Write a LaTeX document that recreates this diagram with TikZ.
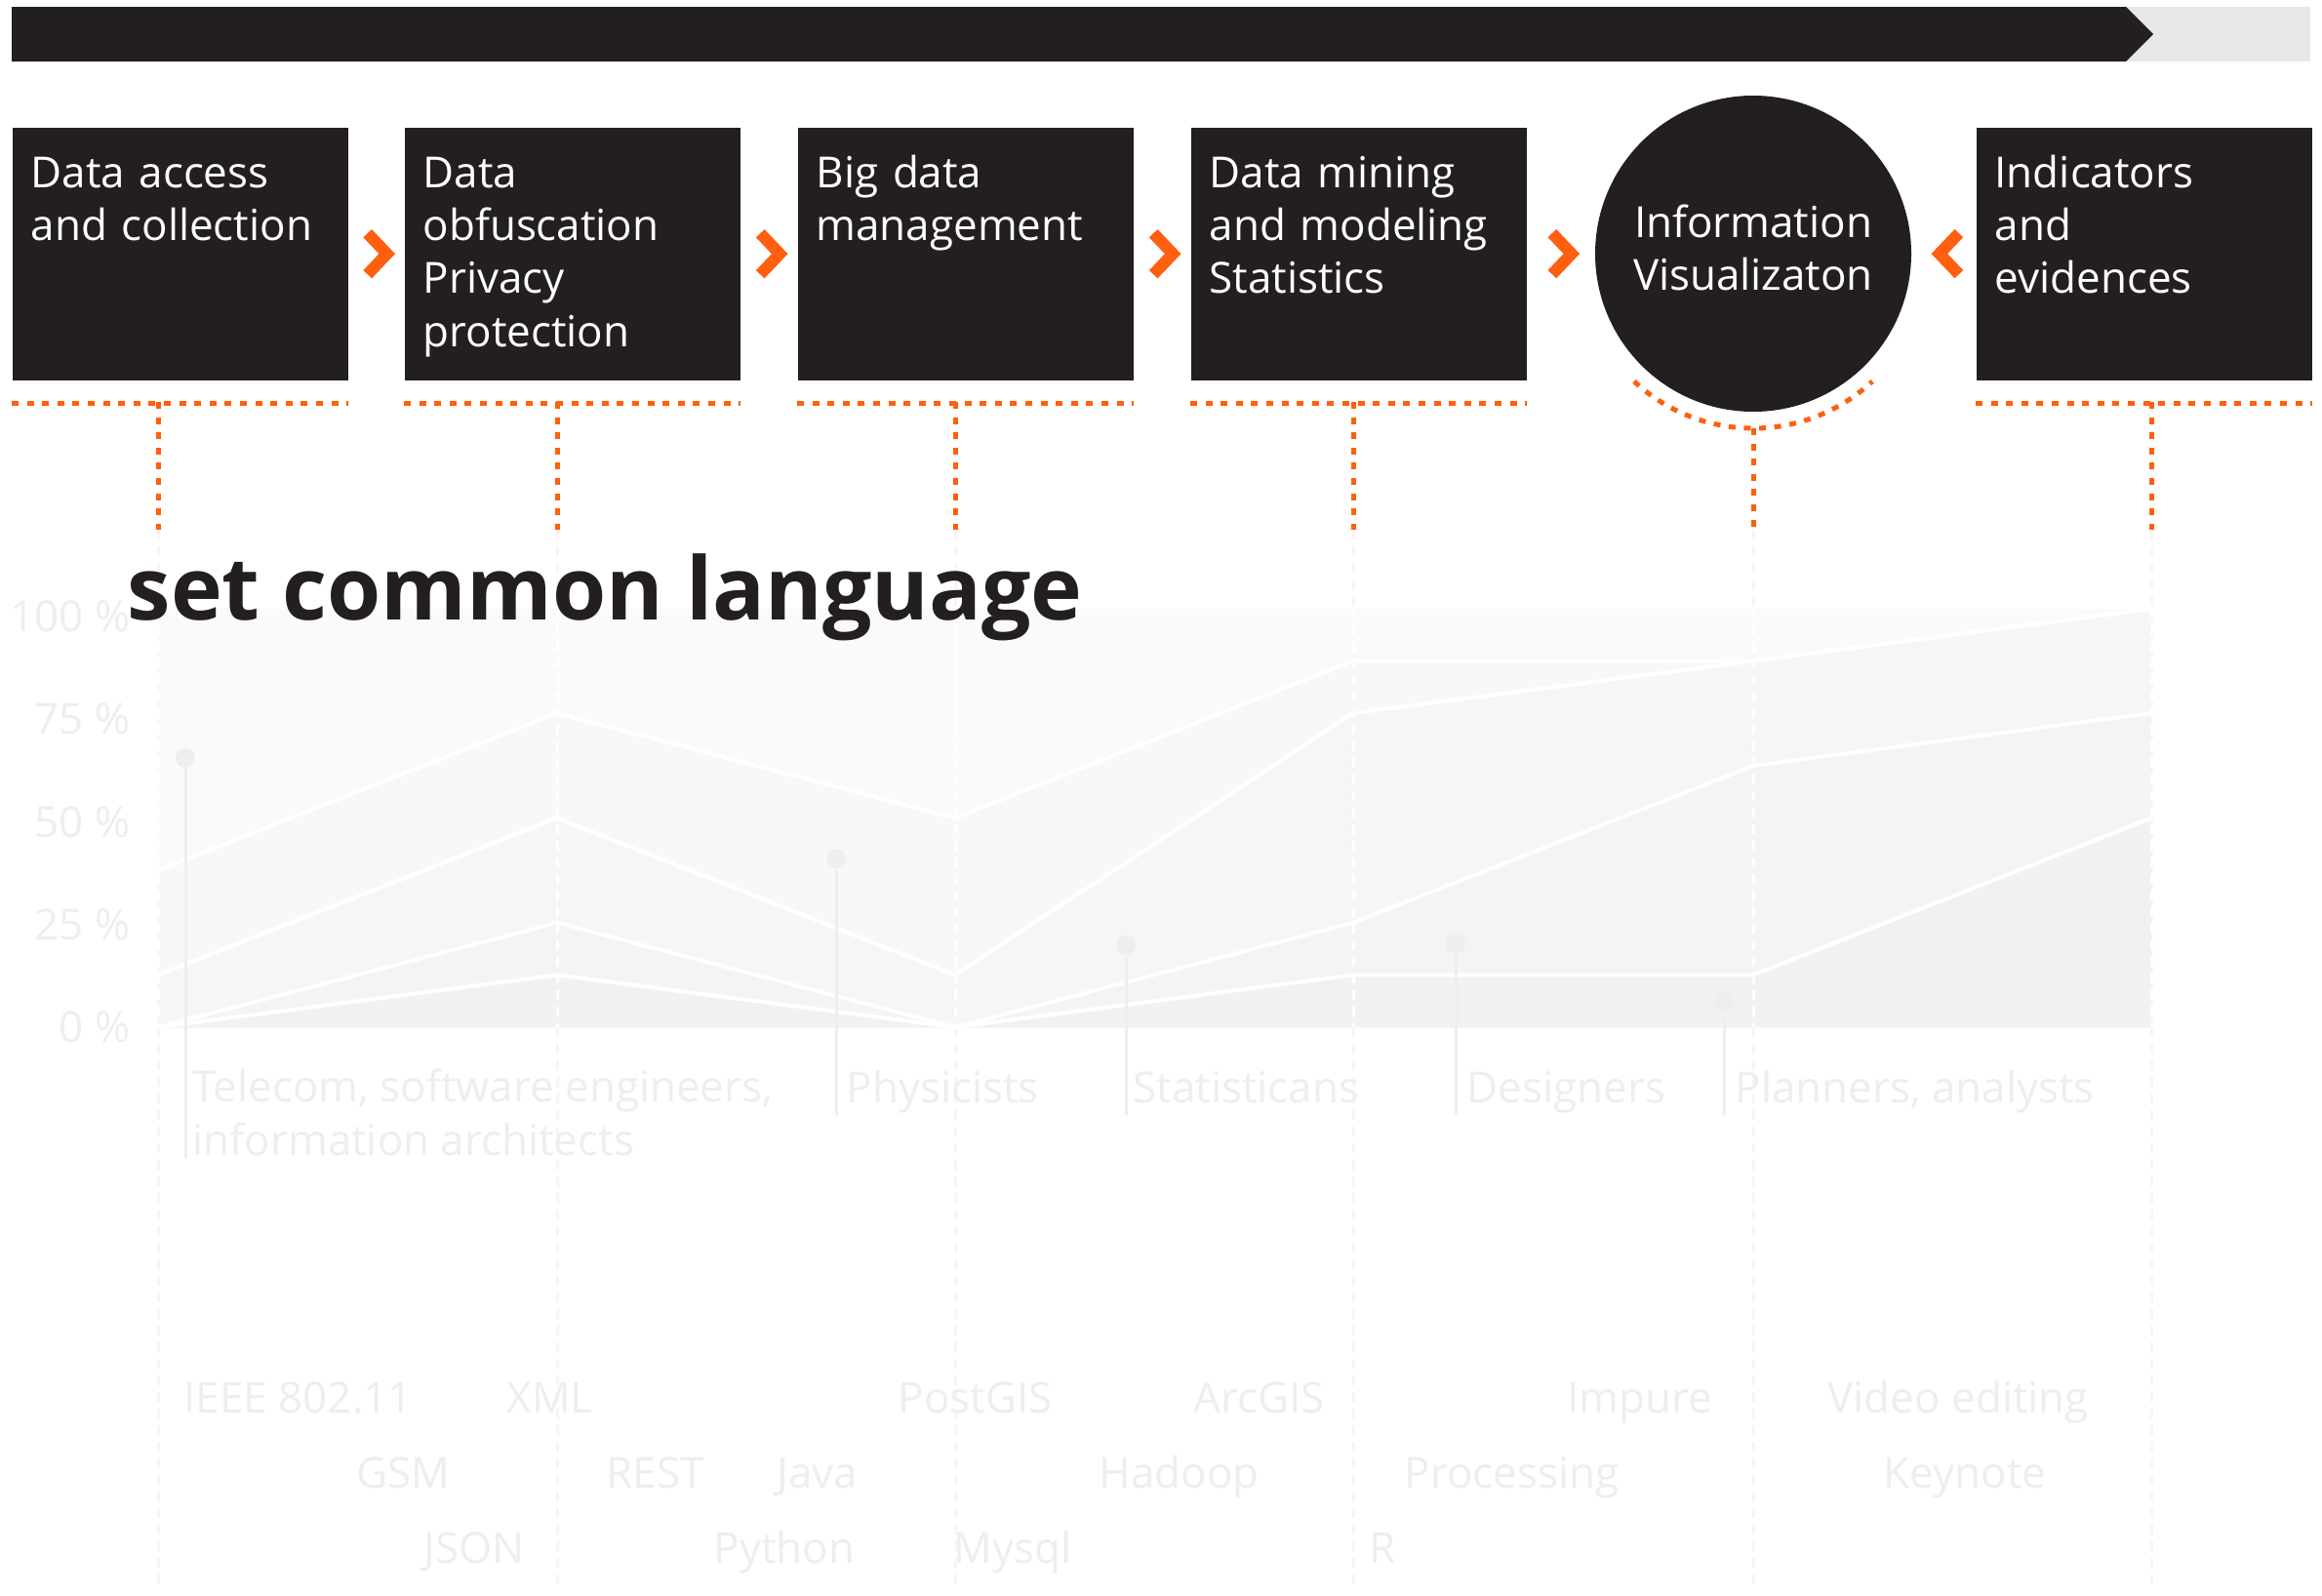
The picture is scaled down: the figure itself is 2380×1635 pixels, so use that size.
\documentclass[tikz,border=0pt]{standalone}
\usepackage{fontspec}
\setmainfont{Open Sans}
\usetikzlibrary{calc}
\definecolor{ink}{HTML}{231F20}
\definecolor{tangerine}{HTML}{FF5F0F}
\definecolor{bargray}{HTML}{E6E7E8}
\definecolor{ghost}{HTML}{EEEEEE}
\definecolor{band0}{HTML}{FAFAFA}
\definecolor{band1}{HTML}{F8F8F8}
\definecolor{band2}{HTML}{F6F6F6}
\definecolor{band3}{HTML}{F4F4F4}
\definecolor{band4}{HTML}{F1F1F1}

\begin{document}
\begin{tikzpicture}[x=0.1mm,y=-0.1mm]
	\tikzstyle{stepbox}=[rectangle,fill=ink,text=white,anchor=north west,inner sep=0pt,inner xsep=1.9mm,text width=30.6mm,align=left,text height=6.2mm,text depth=19.7mm,font=\fontsize{12.5}{15.4}\selectfont]
	\tikzstyle{dots}=[tangerine,line width=0.5mm,dash pattern=on 0.7mm off 0.86mm]
	\tikzstyle{faint}=[tangerine!8,line width=0.3mm,dash pattern=on 1mm off 0.7mm]
	\tikzstyle{gridline}=[white,line width=0.3mm,dash pattern=on 1mm off 0.7mm]
	\tikzstyle{serie}=[white,line width=0.4mm,line join=round]
	\tikzstyle{chev}=[tangerine,line width=1.2mm,miter limit=4]
	\tikzstyle{stalk}=[ghost,line width=0.3mm]
	\tikzstyle{head}=[circle,fill=ghost,minimum size=2mm,inner sep=0pt]
	\tikzstyle{ghosttext}=[text=ghost,inner sep=0pt,font=\fontsize{12.5}{15.4}\selectfont]
	\useasboundingbox (0,0) rectangle (2380,1635);
	\fill[white] (0,0) rectangle (2380,1635);
	% progress bar
	\fill[bargray] (12,7) rectangle (2368,63);
	\fill[ink] (12,7) -- (2179,7) -- (2207,35) -- (2179,63) -- (12,63) -- cycle;
	% steps
	\node[stepbox] (1) at (12,130) {Data access\\and collection};
	\node[stepbox] (2) at (414,130) {Data\\obfuscation\\Privacy\\protection};
	\node[stepbox] (3) at (817,130) {Big data\\management};
	\node[stepbox] (4) at (1220,130) {Data mining\\and modeling\\Statistics};
	\node[circle,fill=ink,text=white,minimum size=32.4mm,inner sep=0pt,align=center,text depth=1.2mm,font=\fontsize{12.5}{15.4}\selectfont] (5) at (1797,260) {Information\\Visualizaton};
	\node[stepbox] (6) at (2025,130) {Indicators\\and\\evidences};
	% chevrons
	\coordinate (a1) at ($(1.east)!0.5!(2.west)$);
	\coordinate (a2) at ($(2.east)!0.5!(3.west)$);
	\coordinate (a3) at ($(3.east)!0.5!(4.west)$);
	\coordinate (a4) at ($(4.east)!0.5!(5.west)$);
	\coordinate (a5) at ($(5.east)!0.5!(6.west)$);
	\draw[chev] (a1) ++(-9,-21) -- ++(20,21) -- ++(-20,21);
	\draw[chev] (a2) ++(-9,-21) -- ++(20,21) -- ++(-20,21);
	\draw[chev] (a3) ++(-9,-21) -- ++(20,21) -- ++(-20,21);
	\draw[chev] (a4) ++(-9,-21) -- ++(20,21) -- ++(-20,21);
	\draw[chev] (a5) ++(15.5,-21) -- ++(-20,21) -- ++(20,21);
	% dotted brackets
	\draw[dots] ($(1.south west)+(0,23)$) -- ($(1.south east)+(0,23)$);
	\draw[dots] ($(2.south west)+(0,23)$) -- ($(2.south east)+(0,23)$);
	\draw[dots] ($(3.south west)+(0,23)$) -- ($(3.south east)+(0,23)$);
	\draw[dots] ($(4.south west)+(0,23)$) -- ($(4.south east)+(0,23)$);
	\draw[dots] ($(6.south west)+(0,23)$) -- ($(6.south east)+(0,23)$);
	\draw[dots] ($(5.center)+(227:17.9mm)$) arc[start angle=227,end angle=313,radius=17.9mm];
	\coordinate (d1) at (162,412);
	\coordinate (d2) at (571,412);
	\coordinate (d3) at (979,412);
	\coordinate (d4) at (1387,412);
	\coordinate (d5) at (1797,439);
	\coordinate (d6) at (2205,412);
	\coordinate (e1) at (162,543);
	\coordinate (e2) at (571,543);
	\coordinate (e3) at (979,543);
	\coordinate (e4) at (1387,543);
	\coordinate (e5) at (1797,543);
	\coordinate (e6) at (2205,543);
	\draw[dots] (d1) -- (e1);
	\draw[dots] (d2) -- (e2);
	\draw[dots] (d3) -- (e3);
	\draw[dots] (d4) -- (e4);
	\draw[dots] (d5) -- (e5);
	\draw[dots] (d6) -- (e6);
	\draw[faint] (e1) -- (162,1625);
	\draw[faint] (e2) -- (571,1625);
	\draw[faint] (e3) -- (979,1625);
	\draw[faint] (e4) -- (1387,1625);
	\draw[faint] (e5) -- (1797,1625);
	\draw[faint] (e6) -- (2205,1625);
	% stacked chart
	\fill[band0] (162,624) rectangle (2205,1053);
	\fill[band1] (162,1053) -- (162,892) -- (571,731) -- (979,838.5) -- (1387,677.6) -- (1797,677.6) -- (2205,624) -- (2205,1053) -- cycle;
	\fill[band2] (162,1053) -- (162,999.4) -- (571,838.5) -- (979,999.4) -- (1387,731) -- (1797,677.6) -- (2205,624) -- (2205,1053) -- cycle;
	\fill[band3] (162,1053) -- (571,945.75) -- (979,1053) -- (1387,945.75) -- (1797,785) -- (2205,731) -- (2205,1053) -- cycle;
	\fill[band4] (162,1053) -- (571,999.4) -- (979,1053) -- (1387,999.4) -- (1797,999.4) -- (2205,838.5) -- (2205,1053) -- cycle;
	\draw[gridline] (162,624) -- (162,1053);
	\draw[gridline] (571,624) -- (571,1053);
	\draw[gridline] (979,624) -- (979,1053);
	\draw[gridline] (1387,624) -- (1387,1053);
	\draw[gridline] (1797,624) -- (1797,1053);
	\draw[gridline] (2205,624) -- (2205,1053);
	\draw[serie] (162,892) -- (571,731) -- (979,838.5) -- (1387,677.6) -- (1797,677.6) -- (2205,624);
	\draw[serie] (162,999.4) -- (571,838.5) -- (979,999.4) -- (1387,731) -- (1797,677.6) -- (2205,624);
	\draw[serie] (162,1053) -- (571,945.75) -- (979,1053) -- (1387,945.75) -- (1797,785) -- (2205,731);
	\draw[serie] (162,1053) -- (571,999.4) -- (979,1053) -- (1387,999.4) -- (1797,999.4) -- (2205,838.5);
	% axis
	\node[ghosttext,anchor=base east] (y100) at (134,647) {100 \%};
	\node[ghosttext,anchor=base east] (y75) at (134,752) {75 \%};
	\node[ghosttext,anchor=base east] (y50) at (134,858) {50 \%};
	\node[ghosttext,anchor=base east] (y25) at (134,963) {25 \%};
	\node[ghosttext,anchor=base east] (y0) at (134,1068) {0 \%};
	% professions
	\node[head] (h1) at (190,777) {};
	\node[head] (h2) at (857,880) {};
	\node[head] (h3) at (1154,969) {};
	\node[head] (h4) at (1492,967) {};
	\node[head] (h5) at (1767,1027) {};
	\coordinate (f1) at (190,1187);
	\coordinate (f2) at (857,1143);
	\coordinate (f3) at (1154,1143);
	\coordinate (f4) at (1492,1143);
	\coordinate (f5) at (1767,1143);
	\draw[stalk] (h1) -- (f1);
	\draw[stalk] (h2) -- (f2);
	\draw[stalk] (h3) -- (f3);
	\draw[stalk] (h4) -- (f4);
	\draw[stalk] (h5) -- (f5);
	\node[ghosttext,anchor=base west,align=left] (c1) at (197,1184) {Telecom, software engineers,\\information architects};
	\node[ghosttext,anchor=base west] (c2) at (867,1130) {Physicists};
	\node[ghosttext,anchor=base west] (c3) at (1161,1130) {Statisticans};
	\node[ghosttext,anchor=base west] (c4) at (1503,1130) {Designers};
	\node[ghosttext,anchor=base west] (c5) at (1778,1130) {Planners, analysts};
	% tools
	\node[ghosttext,anchor=base west] (t1) at (188,1448) {IEEE 802.11};
	\node[ghosttext,anchor=base west] (t2) at (519,1448) {XML};
	\node[ghosttext,anchor=base west] (t3) at (920,1448) {PostGIS};
	\node[ghosttext,anchor=base west] (t4) at (1223,1448) {ArcGIS};
	\node[ghosttext,anchor=base west] (t5) at (1606,1448) {Impure};
	\node[ghosttext,anchor=base west] (t6) at (1873,1448) {Video editing};
	\node[ghosttext,anchor=base west] (t7) at (365,1525) {GSM};
	\node[ghosttext,anchor=base west] (t8) at (621,1525) {REST};
	\node[ghosttext,anchor=base west] (t9) at (796,1525) {Java};
	\node[ghosttext,anchor=base west] (t10) at (1126,1525) {Hadoop};
	\node[ghosttext,anchor=base west] (t11) at (1439,1525) {Processing};
	\node[ghosttext,anchor=base west] (t12) at (1930,1525) {Keynote};
	\node[ghosttext,anchor=base west] (t13) at (434,1602) {JSON};
	\node[ghosttext,anchor=base west] (t14) at (731,1602) {Python};
	\node[ghosttext,anchor=base west] (t15) at (977,1602) {Mysql};
	\node[ghosttext,anchor=base west] (t16) at (1403,1602) {R};
	% title
	\node[anchor=base west,inner sep=0pt,text=ink,font=\bfseries\fontsize{25.4}{30}\selectfont] (title) at (130,635) {set common language};
\end{tikzpicture}
\end{document}
